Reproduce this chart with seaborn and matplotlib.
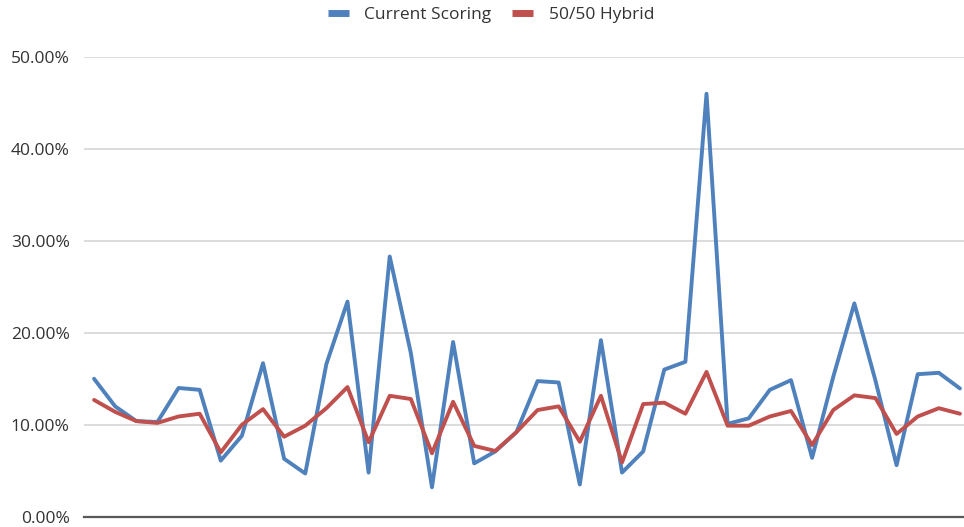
import seaborn as sns
import matplotlib.pyplot as plt
import matplotlib.ticker as mticker
import pandas as pd
import numpy as np

sns.set_style("white")
plt.rcParams['font.family'] = ['Open Sans', 'DejaVu Sans']

# Values (percent)
current_scoring = [15.0, 12.0, 10.4, 10.3, 14.0, 13.8, 6.1, 8.8, 16.7, 6.3,
                   4.7, 16.6, 23.4, 4.8, 28.3, 17.8, 3.2, 19.0, 5.8, 7.1,
                   9.2, 14.75, 14.6, 3.5, 19.2, 4.8, 7.1, 16.0, 16.85, 46.0,
                   10.1, 10.7, 13.8, 14.85, 6.4, 15.2, 23.2, 14.8, 5.6, 15.5,
                   15.65, 13.95]
hybrid_5050 = [12.7, 11.4, 10.4, 10.2, 10.9, 11.2, 7.0, 10.0, 11.7, 8.7,
               9.9, 11.8, 14.1, 8.1, 13.15, 12.8, 6.9, 12.5, 7.7, 7.15,
               9.2, 11.6, 12.0, 8.15, 13.15, 5.9, 12.25, 12.4, 11.2, 15.75,
               9.9, 9.9, 10.9, 11.5, 7.8, 11.6, 13.2, 12.9, 9.0, 10.9,
               11.8, 11.2]
series_names = ["Current Scoring", "50/50 Hybrid"]
colors = ["#4f81bd", "#c0504d"]

n = len(current_scoring)
df = pd.DataFrame({
    "idx": list(range(n)) * 2,
    "value": np.array(current_scoring + hybrid_5050) / 100,
    "series": [series_names[0]] * n + [series_names[1]] * n,
})

fig = plt.figure(figsize=(9.64, 5.27), dpi=100)
ax = fig.add_axes([83.5 / 964, 10.3 / 527, 887 / 964, 459.7 / 527])

sns.lineplot(data=df, x="idx", y="value", hue="series", palette=colors,
             linewidth=2.8, ax=ax, legend=False)

ax.set_xlim(-0.5, n - 0.5)
ax.set_ylim(0, 0.5)
ax.set_yticks(np.arange(0, 0.51, 0.1))
ax.yaxis.set_major_formatter(mticker.FuncFormatter(lambda v, _: f"{v*100:.2f}%"))
ax.set_xticks([])
ax.set_xlabel("")
ax.set_ylabel("")
ax.grid(axis="y", color="#d9d9d9", linewidth=1.3)
ax.set_axisbelow(True)
for side in ["top", "right", "left"]:
    ax.spines[side].set_visible(False)
ax.spines["bottom"].set_color("#595959")
ax.spines["bottom"].set_linewidth(1.6)
ax.tick_params(axis="y", length=0, pad=10, labelsize=12.5, labelcolor="#333333")

handles = [plt.Line2D([], [], color=c, linewidth=5, solid_capstyle="butt")
           for c in colors]
fig.legend(handles, series_names, loc="center",
           bbox_to_anchor=(0.5 + 9 / 964, 1 - 15 / 527),
           ncol=2, frameon=False, fontsize=12.5, handlelength=1.2,
           handletextpad=0.9, columnspacing=1.2, labelcolor="#333333")

plt.savefig("out.png", dpi=100)
plt.close()
